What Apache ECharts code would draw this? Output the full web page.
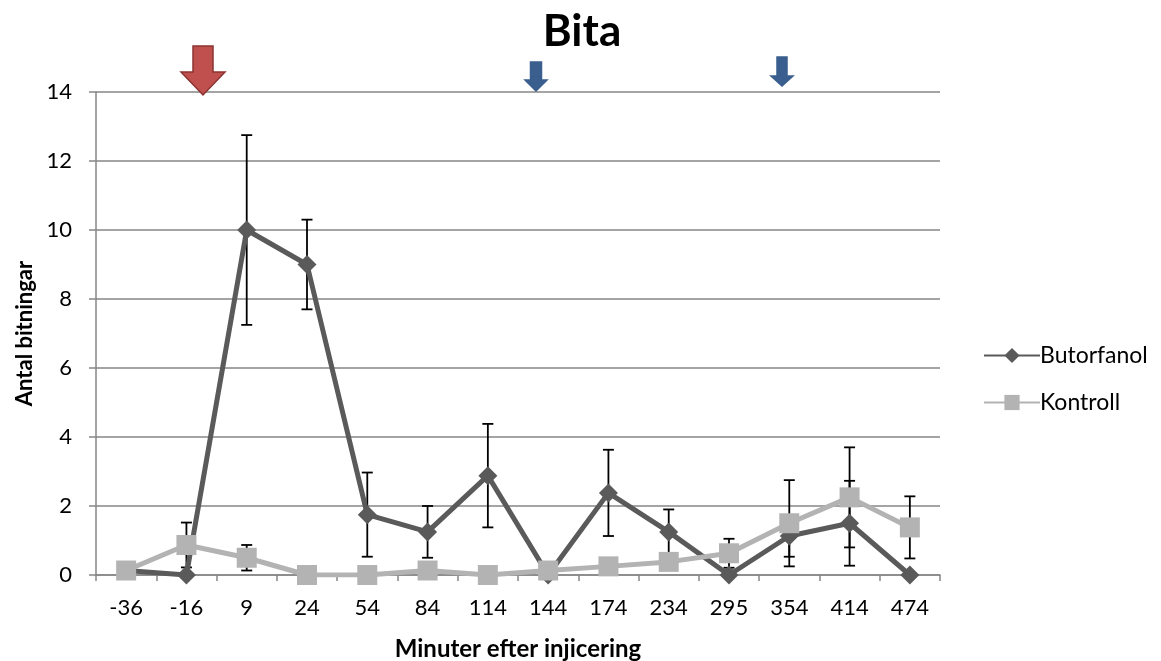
<!DOCTYPE html>
<html>
<head>
<meta charset="utf-8">
<script src="https://cdn.jsdelivr.net/npm/echarts@6/dist/echarts.min.js"></script>
<style>html,body{margin:0;padding:0;background:#fff}#c{width:1161px;height:661px}</style>
</head>
<body>
<div id="c"></div>
<script>
const categories = ['-36','-16','9','24','54','84','114','144','174','234','295','354','414','474'];
const butorfanol = [0.13, 0, 10, 9, 1.75, 1.25, 2.88, 0, 2.38, 1.25, 0, 1.13, 1.5, 0];
const butorfanolErr = [0, 0, 2.75, 1.3, 1.22, 0.75, 1.5, 0, 1.25, 0.65, 0, 0.6, 1.23, 0];
const kontroll = [0.13, 0.87, 0.5, 0, 0, 0.13, 0, 0.13, 0.25, 0.38, 0.63, 1.5, 2.25, 1.38];
const kontrollErr = [0, 0.65, 0.37, 0, 0, 0, 0, 0, 0, 0, 0.42, 1.25, 1.45, 0.9];
const yTicks = [0, 2, 4, 6, 8, 10, 12, 14];

const FONT = 'Lato, "Liberation Sans", sans-serif';

function errData(vals, errs) {
  const out = [];
  vals.forEach((v, i) => { if (errs[i] > 0) out.push([i, v - errs[i], v + errs[i]]); });
  return out;
}
function errRender(params, api) {
  const x = api.value(0);
  const lo = api.coord([x, api.value(1)]);
  const hi = api.coord([x, api.value(2)]);
  const w = 5.5;
  const st = { stroke: '#000', lineWidth: 1.8 };
  return {
    type: 'group',
    children: [
      { type: 'line', shape: { x1: lo[0], y1: lo[1], x2: hi[0], y2: hi[1] }, style: st },
      { type: 'line', shape: { x1: hi[0] - w, y1: hi[1], x2: hi[0] + w, y2: hi[1] }, style: st },
      { type: 'line', shape: { x1: lo[0] - w, y1: lo[1], x2: lo[0] + w, y2: lo[1] }, style: st }
    ]
  };
}
function arrow(cx, top, shaftW, headW, headY, tip, fill, stroke) {
  return {
    type: 'polygon',
    shape: { points: [
      [cx - shaftW / 2, top], [cx + shaftW / 2, top], [cx + shaftW / 2, headY],
      [cx + headW / 2, headY], [cx, tip], [cx - headW / 2, headY], [cx - shaftW / 2, headY]
    ] },
    style: { fill: fill, stroke: stroke, lineWidth: 1.5 },
    z: 100
  };
}

const chart = echarts.init(document.getElementById('c'));
chart.setOption({
  animation: false,
  backgroundColor: '#fff',
  title: {
    text: 'Bita', left: 577, textAlign: 'center', top: 5,
    textStyle: { fontFamily: FONT, fontSize: 44, fontWeight: 'bold', color: '#000' }
  },
  grid: { left: 96, right: 221, top: 92, bottom: 86, containLabel: false, outerBoundsMode: 'none' },
  legend: {
    orient: 'vertical', left: 978, top: 339, itemGap: 24,
    itemWidth: 56, itemHeight: 19,
    textStyle: { fontFamily: FONT, fontSize: 23, color: '#000', padding: [0, 0, 0, -5] },
    data: ['Butorfanol', 'Kontroll']
  },
  xAxis: {
    type: 'category', data: categories, boundaryGap: true,
    name: 'Minuter efter injicering', nameLocation: 'middle', nameGap: 62,
    nameTextStyle: { fontFamily: FONT, fontSize: 24, fontWeight: 'bold', color: '#000' },
    axisLine: { lineStyle: { color: '#868686', width: 1.5 } },
    axisTick: { show: true, length: 6, interval: 0, lineStyle: { color: '#868686', width: 1.5 } },
    axisLabel: { fontFamily: FONT, fontSize: 22, color: '#000', margin: 22, interval: 0 }
  },
  yAxis: {
    type: 'value', min: 0, max: 14, interval: 2,
    name: 'Antal bitningar', nameLocation: 'middle', nameGap: 59, nameRotate: 90,
    nameTextStyle: { fontFamily: FONT, fontSize: 22, fontWeight: 'bold', color: '#000' },
    axisLine: { show: true, lineStyle: { color: '#868686', width: 1.5 } },
    axisTick: { show: true, length: 7, lineStyle: { color: '#868686', width: 1.5 } },
    splitLine: { show: true, lineStyle: { color: '#868686', width: 1.5 } },
    axisLabel: { fontFamily: FONT, fontSize: 22, color: '#000', margin: 24,
      formatter: v => yTicks.indexOf(v) >= 0 ? String(v) : '' }
  },
  series: [
    { type: 'custom', name: 'errB', renderItem: errRender, data: errData(butorfanol, butorfanolErr), z: 1, silent: true },
    { type: 'custom', name: 'errK', renderItem: errRender, data: errData(kontroll, kontrollErr), z: 1, silent: true },
    {
      name: 'Butorfanol', type: 'line', data: butorfanol, z: 3,
      symbol: 'diamond', symbolSize: 19,
      lineStyle: { color: '#5a5a5a', width: 5 },
      itemStyle: { color: '#5a5a5a' }
    },
    {
      name: 'Kontroll', type: 'line', data: kontroll, z: 4,
      symbol: 'rect', symbolSize: 20,
      lineStyle: { color: '#b3b3b3', width: 5 },
      itemStyle: { color: '#b3b3b3' }
    }
  ],
  graphic: [
    arrow(203, 46, 20, 44, 72, 95, '#c0504d', '#8b3331'),
    arrow(536, 62, 11, 22, 80, 91, '#3a5f8f', '#3a5f8f'),
    arrow(782, 57, 10, 22, 76, 86, '#3a5f8f', '#3a5f8f')
  ]
});
</script>
</body>
</html>
